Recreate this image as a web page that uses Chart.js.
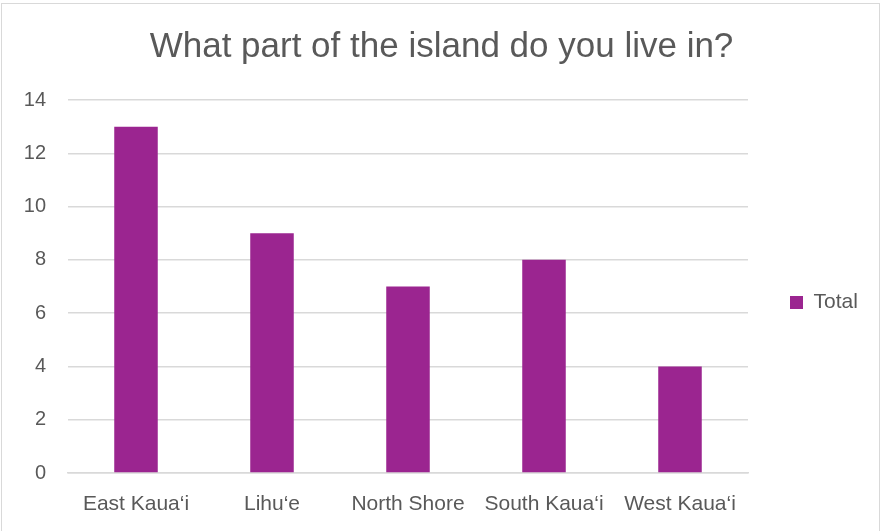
<!DOCTYPE html>
<html><head><meta charset="utf-8">
<script src="https://cdn.jsdelivr.net/npm/chart.js@4/dist/chart.umd.min.js"></script>
<style>
html,body{margin:0;padding:0;background:#fff;}
#frame{position:absolute;left:1px;top:3px;width:879px;height:540px;border:1.5px solid #d9d9d9;box-sizing:border-box;}
#wrap{position:absolute;left:0;top:0;width:883px;height:531px;}
</style></head>
<body>
<div id="frame"></div>
<div id="wrap"><canvas id="c" width="883" height="531"></canvas></div>
<script>
const categories = ["East Kaua‘i", "Lihu‘e", "North Shore", "South Kaua‘i", "West Kaua‘i"];
const totals = [13, 9, 7, 8, 4];
const yTicks = [0, 2, 4, 6, 8, 10, 12, 14];
const seriesName = "Total";
const titleText = "What part of the island do you live in?";

const FONT = "'Liberation Sans', Arial, sans-serif";
const TXT = '#595959';

const legendPlacePlugin = {
  id: 'legendPlace',
  beforeLayout(chart) {
    const lg = chart.legend;
    if (lg && !lg._patched) {
      const orig = lg.fit.bind(lg);
      lg.fit = function () { orig(); this.width = 135; };
      lg._patched = true;
    }
  },
  afterLayout(chart) {
    const lg = chart.legend;
    if (lg) { lg.top += 37; lg.bottom += 37; }
  }
};

new Chart(document.getElementById('c'), {
  type: 'bar',
  data: {
    labels: categories,
    datasets: [{
      label: seriesName,
      data: totals,
      backgroundColor: '#9b2590',
      borderWidth: 0,
      barPercentage: 0.64,
      categoryPercentage: 0.5
    }]
  },
  plugins: [legendPlacePlugin],
  options: {
    responsive: false,
    animation: false,
    devicePixelRatio: 1,
    layout: { padding: { left: 0, right: 0, top: 0, bottom: 0 } },
    plugins: {
      title: {
        display: true, text: titleText, color: TXT,
        font: { family: FONT, size: 35, weight: 'normal' },
        padding: { top: 26, bottom: 32 }
      },
      legend: {
        position: 'right',
        labels: {
          color: TXT, boxWidth: 13, boxHeight: 13,
          font: { family: FONT, size: 21 },
          padding: 42
        }
      },
      tooltip: { enabled: false }
    },
    scales: {
      x: {
        grid: { display: false, drawTicks: false },
        border: { display: true, color: '#d9d9d9', width: 1.5 },
        ticks: { color: TXT, font: { family: FONT, size: 21 }, padding: 19, maxRotation: 0, autoSkip: false },
        afterFit: s => { s.height = 531 - 473; }
      },
      y: {
        min: 0, max: 14,
        afterBuildTicks: s => { s.ticks = yTicks.map(v => ({ value: v })); },
        grid: { color: '#d9d9d9', lineWidth: 1.5, drawTicks: false },
        border: { display: false },
        ticks: { color: TXT, font: { family: FONT, size: 20 }, padding: 22 },
        afterFit: s => { s.width = 68; }
      }
    }
  }
});
</script>
</body></html>
